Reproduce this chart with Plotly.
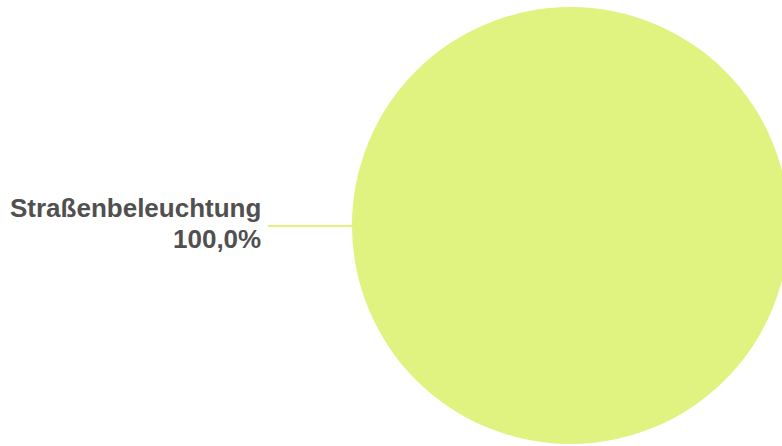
import plotly.graph_objects as go

labels = ["Straßenbeleuchtung"]
values = [100.0]
colors = ["#e0f27f"]

total = sum(values)
pct = [v / total * 100 for v in values]
pct_text = [f"{p:.1f}".replace(".", ",") + "%" for p in pct]

W, H = 790, 446

fig = go.Figure(go.Pie(
    labels=labels,
    values=values,
    marker=dict(colors=colors, line=dict(width=0)),
    textinfo="none",
    sort=False,
    direction="clockwise",
    rotation=90,
    hoverinfo="label+percent",
    domain=dict(x=[351 / W, 1], y=[2 / H, 439 / H]),
    showlegend=False,
))

font = dict(family="Liberation Sans, Arial, sans-serif", size=26, color="#505050")
fig.add_annotation(x=263 / W, y=1 - 208 / H, xref="paper", yref="paper",
                   text=f"<b>{labels[0]}</b>", showarrow=False,
                   xanchor="right", yanchor="middle", font=font)
fig.add_annotation(x=263 / W, y=1 - 239 / H, xref="paper", yref="paper",
                   text=f"<b>{pct_text[0]}</b>", showarrow=False,
                   xanchor="right", yanchor="middle", font=font)
fig.add_shape(type="line", xref="paper", yref="paper",
              x0=268 / W, x1=353 / W, y0=1 - 226 / H, y1=1 - 226 / H,
              line=dict(color=colors[0], width=2))

fig.update_layout(
    width=W, height=H,
    margin=dict(l=0, r=0, t=0, b=0),
    paper_bgcolor="white",
    plot_bgcolor="white",
)
fig.write_html(
    "out.html",
    config={"displayModeBar": False},
    post_script="document.body.style.margin='0';document.body.style.overflow='hidden';",
)
